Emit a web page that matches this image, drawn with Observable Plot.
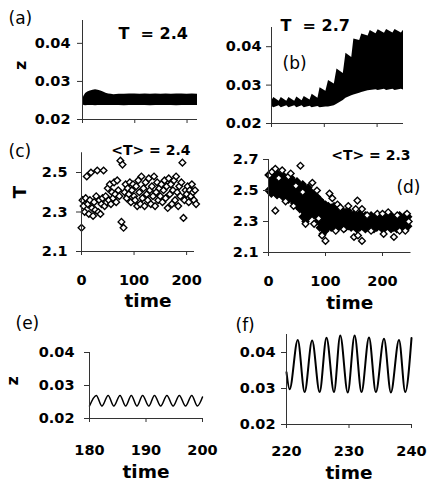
<!DOCTYPE html>
<html><head><meta charset="utf-8">
<script src="https://cdn.jsdelivr.net/npm/d3@7"></script>
<script src="https://cdn.jsdelivr.net/npm/@observablehq/plot@0.6"></script>
<style>
body{margin:0;background:#fff;}
#fig{position:relative;width:427px;height:485px;overflow:hidden;background:#fff;}
</style></head><body><div id="fig"></div>
<script>
// ---------- tick values ----------
const timeTicks = [0, 100, 200];
const zTicks = [0.02, 0.03, 0.04];
const tTicksC = [2.1, 2.3, 2.5];
const tTicksD = [2.1, 2.3, 2.5, 2.7];
const eTicks = [180, 190, 200];
const fTicks = [220, 230, 240];

// ---------- (a) z envelope, T = 2.4 ----------
const aTime  = [0, 3, 6, 10, 15, 20, 25, 30, 35, 40, 45, 50, 55, 60, 70, 80, 90, 100, 110, 120, 130, 140, 150, 160, 170, 180, 190, 200, 210, 220];
const aUpper = [0.0252, 0.0262, 0.0268, 0.0272, 0.0275, 0.0277, 0.0278, 0.0277, 0.0275, 0.0272, 0.0269, 0.0267, 0.0266, 0.0265, 0.0266, 0.0266, 0.0267, 0.0267, 0.0266, 0.0267, 0.0266, 0.0267, 0.0266, 0.0267, 0.0266, 0.0267, 0.0267, 0.0266, 0.0267, 0.0266];
const aLower = [0.0240, 0.0237, 0.0236, 0.0237, 0.0237, 0.0237, 0.0236, 0.0237, 0.0237, 0.0237, 0.0237, 0.0237, 0.0237, 0.0237, 0.0237, 0.0236, 0.0237, 0.0237, 0.0237, 0.0237, 0.0236, 0.0237, 0.0237, 0.0237, 0.0237, 0.0236, 0.0237, 0.0237, 0.0237, 0.0237];

// ---------- (b) z envelope, T = 2.7 ----------
const bTime  = [0, 4.5, 14.5, 18.5, 29, 33, 44, 48, 58, 62, 73, 77, 88, 92, 103, 108, 119, 124, 136, 141, 152, 156, 167, 171, 183, 187, 198, 202, 214, 218, 230, 234, 246, 250];
const bUpper = [0.0258, 0.0268, 0.0258, 0.0268, 0.0258, 0.0268, 0.0258, 0.0269, 0.0259, 0.0270, 0.0261, 0.0276, 0.0266, 0.0293, 0.0284, 0.0312, 0.0303, 0.0342, 0.0330, 0.0383, 0.0372, 0.0420, 0.0416, 0.0433, 0.0428, 0.0442, 0.0434, 0.0444, 0.0435, 0.0445, 0.0436, 0.0445, 0.0436, 0.0443];
const bLower = [0.0245, 0.0241, 0.0246, 0.0241, 0.0246, 0.0241, 0.0246, 0.0241, 0.0246, 0.0241, 0.0245, 0.0241, 0.0244, 0.0241, 0.0243, 0.0243, 0.0246, 0.0250, 0.0260, 0.0266, 0.0272, 0.0274, 0.0279, 0.0281, 0.0285, 0.0286, 0.0288, 0.0286, 0.0289, 0.0286, 0.0289, 0.0286, 0.0289, 0.0287];

// ---------- (c) T scatter, <T> = 2.4 ----------
const cTime = [0,2,4,6,8,10,12,14,16,18,20,22,24,26,28,30,32,34,36,38,40,42,44,46,48,50,52,54,56,58,60,62,64,66,68,70,72,74,76,78,80,82,84,86,88,90,92,94,96,98,100,102,104,106,108,110,112,114,116,118,120,122,124,126,128,130,132,134,136,138,140,142,144,146,148,150,152,154,156,158,160,162,164,166,168,170,172,174,176,178,180,182,184,186,188,190,192,194,196,198,200,202,204,206,208,210,212,214,216,218];
const cT = [2.22,2.36,2.33,2.30,2.37,2.48,2.34,2.29,2.36,2.50,2.32,2.28,2.35,2.31,2.38,2.51,2.30,2.36,2.29,2.34,2.37,2.51,2.33,2.38,2.35,2.42,2.36,2.44,2.34,2.40,2.37,2.45,2.39,2.35,2.46,2.41,2.38,2.56,2.25,2.54,2.22,2.40,2.44,2.37,2.42,2.39,2.45,2.35,2.41,2.44,2.38,2.36,2.43,2.33,2.46,2.40,2.34,2.48,2.37,2.42,2.33,2.45,2.39,2.36,2.47,2.41,2.34,2.43,2.38,2.48,2.33,2.40,2.45,2.36,2.42,2.38,2.44,2.35,2.41,2.46,2.37,2.43,2.32,2.47,2.39,2.44,2.34,2.41,2.46,2.36,2.48,2.40,2.33,2.43,2.38,2.45,2.55,2.27,2.36,2.41,2.39,2.43,2.35,2.41,2.38,2.44,2.40,2.36,2.41,2.34];

// ---------- (d) T scatter, <T> = 2.3 ----------
const dEnvTime = [0,5,10,15,20,25,30,35,40,45,50,55,60,65,70,75,80,85,90,95,100,105,110,115,120,125,130,135,140,145,150,155,160,165,170,175,180,185,190,195,200,205,210,215,220,225,230,235,240,245];
const dUpper = [2.60,2.61,2.60,2.61,2.59,2.60,2.58,2.57,2.58,2.55,2.56,2.53,2.54,2.51,2.52,2.49,2.48,2.46,2.44,2.42,2.41,2.40,2.39,2.40,2.37,2.38,2.37,2.36,2.37,2.34,2.35,2.33,2.35,2.33,2.34,2.33,2.34,2.32,2.34,2.33,2.34,2.32,2.33,2.34,2.32,2.33,2.34,2.32,2.34,2.33];
const dLower = [2.50,2.48,2.49,2.47,2.48,2.46,2.45,2.44,2.45,2.42,2.40,2.38,2.33,2.30,2.33,2.36,2.34,2.30,2.26,2.22,2.24,2.27,2.26,2.28,2.26,2.27,2.28,2.26,2.27,2.26,2.27,2.25,2.26,2.27,2.25,2.26,2.27,2.25,2.26,2.27,2.25,2.26,2.27,2.25,2.26,2.25,2.27,2.26,2.25,2.27];
const dOutTime = [2,6,12,18,24,35,39,56,12,30,44,48,60,77,85,65,80,88,107,112,94,100,121,126,118,132,140,153,156,150,157,164,164,173,180,191,200,202,210,220,226,230,240,243,246];
const dOutT = [2.60,2.62,2.64,2.58,2.63,2.59,2.61,2.66,2.37,2.43,2.40,2.53,2.49,2.55,2.50,2.285,2.285,2.32,2.48,2.45,2.21,2.175,2.41,2.39,2.24,2.25,2.40,2.38,2.435,2.20,2.21,2.175,2.38,2.34,2.24,2.35,2.35,2.22,2.36,2.20,2.34,2.24,2.24,2.35,2.30];

// ---------- (e) zoomed z, T = 2.4 ----------
const eTime = [180,181.2,182.2,183.3,184.3,185.4,186.4,187.4,188.4,189.4,190.5,191.5,192.6,193.7,194.8,195.9,197.0,198.1,199.1,200];
const eZ = [0.0238,0.0270,0.0238,0.0270,0.0238,0.0270,0.0238,0.0270,0.0238,0.0270,0.0238,0.0270,0.0238,0.0270,0.0238,0.0270,0.0238,0.0270,0.0238,0.0265];

// ---------- (f) zoomed z, T = 2.7 ----------
const fTime = [220,220.5,221.8,222.9,224.1,225.3,226.4,227.6,228.6,229.8,230.9,232.0,233.2,234.3,235.6,236.7,238.0,239.0,240];
const fZ = [0.0345,0.0298,0.0435,0.0290,0.0433,0.0290,0.0441,0.0290,0.0447,0.0289,0.0447,0.0290,0.0442,0.0290,0.0438,0.0289,0.0435,0.0290,0.0440];

// ---------- tables ----------
const aRows = aTime.map((t, i) => ({t, lo: aLower[i], hi: aUpper[i]}));
const bRows = bTime.map((t, i) => ({t, lo: bLower[i], hi: bUpper[i]}));
const cRows = cTime.map((t, i) => ({t, T: cT[i]}));
const dEnv = dEnvTime.map((t, i) => ({t, lo: dLower[i], hi: dUpper[i]}));
const dOut = dOutTime.map((t, i) => ({t, T: dOutT[i]}));
const eRows = eTime.map((t, i) => ({t, z: eZ[i]}));
const fRows = fTime.map((t, i) => ({t, z: fZ[i]}));

const FONT = "'DejaVu Sans', sans-serif";
const fig = document.getElementById("fig");

function label(txt, o) {
  return Plot.text([txt], Object.assign({lineAnchor: "middle", fill: "#000"}, o));
}

function panel(o) {
  const svg = Plot.plot({
    width: o.width, height: o.height,
    marginTop: o.mt, marginRight: o.mr, marginBottom: o.mb, marginLeft: o.ml,
    x: {domain: o.xd},
    y: {domain: o.yd},
    style: {fontFamily: FONT, fontWeight: "bold", fontSize: "14.5px", color: "#000", background: "transparent", overflow: "visible"},
    marks: [
      ...o.marks,
      Plot.ruleY([o.yd[0]], {stroke: "#333", strokeWidth: 1}),
      Plot.ruleX([o.xd[0]], {stroke: "#333", strokeWidth: 1}),
      Plot.axisY(o.yt, {tickSize: 5, tickPadding: o.yPad, tickFormat: o.yFmt, fontSize: 14.5, label: null, stroke: "#333"}),
      Plot.axisX(o.xt, {tickSize: 4, tickPadding: o.xPad, tickFormat: o.xLab ? "d" : () => "", fontSize: 14.5, label: null, stroke: "#333"}),
      ...o.texts
    ]
  });
  svg.style.position = "absolute";
  svg.style.left = o.left + "px";
  svg.style.top = o.top + "px";
  fig.appendChild(svg);
}

// (a)
panel({
  left: 0, top: 0, width: 213, height: 130, mt: 20, mb: 11, ml: 82, mr: 16,
  xd: [0, 220], yd: [0.02, 0.046], xt: timeTicks, yt: zTicks, yFmt: ".2f", yPad: 7, xLab: false, xPad: 3,
  marks: [Plot.areaY(aRows, {x: "t", y1: "lo", y2: "hi", fill: "#000"})],
  texts: [
    label("T\u00a0 = 2.4", {frameAnchor: "top-left", textAnchor: "start", dx: 36, dy: 13, fontSize: 16}),
    label("(a)", {frameAnchor: "top-left", textAnchor: "start", dx: -74, dy: -2, fontSize: 17, fontWeight: "normal"}),
    label("z", {frameAnchor: "left", rotate: -90, dx: -62, fontSize: 16})
  ]
});

// (b)
panel({
  left: 213, top: 0, width: 214, height: 134, mt: 27, mb: 11, ml: 58, mr: 24,
  xd: [0, 250], yd: [0.02, 0.045], xt: timeTicks, yt: zTicks, yFmt: ".2f", yPad: 5, xLab: false, xPad: 3,
  marks: [Plot.areaY(bRows, {x: "t", y1: "lo", y2: "hi", fill: "#000"})],
  texts: [
    label("T\u00a0 = 2.7", {frameAnchor: "top-left", textAnchor: "start", dx: 9, dy: -2, fontSize: 16}),
    label("(b)", {frameAnchor: "top-left", textAnchor: "start", dx: 11, dy: 36, fontSize: 17, fontWeight: "normal"})
  ]
});

// (c)
panel({
  left: 0, top: 134, width: 213, height: 172, mt: 18.25, mb: 55, ml: 81, mr: 19,
  xd: [0, 215], yd: [2.1, 2.6], xt: timeTicks, yt: tTicksC, yFmt: ".1f", yPad: 9, xLab: true, xPad: 19,
  marks: [Plot.dot(cRows, {x: "t", y: "T", symbol: "diamond2", r: 3, fill: "#fff", stroke: "#000", strokeWidth: 1.4})],
  texts: [
    label("<T> = 2.4", {frameAnchor: "top-right", textAnchor: "end", dx: -4, dy: -2, fontSize: 14}),
    label("(c)", {frameAnchor: "top-left", textAnchor: "start", dx: -73, dy: -1, fontSize: 17, fontWeight: "normal"}),
    label("T", {frameAnchor: "left", rotate: -90, dx: -61, dy: -4, fontSize: 18}),
    label("time", {frameAnchor: "bottom", dx: 10, dy: 50, fontSize: 18.5})
  ]
});

// (d)
panel({
  left: 213, top: 134, width: 214, height: 172, mt: 25, mb: 54, ml: 55, mr: 16.5,
  xd: [0, 250], yd: [2.1, 2.7], xt: timeTicks, yt: tTicksD, yFmt: ".1f", yPad: 5, xLab: true, xPad: 19,
  marks: [
    Plot.areaY(dEnv, {x: "t", y1: "lo", y2: "hi", fill: "#000"}),
    Plot.dot(dEnv, {x: "t", y: "hi", symbol: "diamond2", r: 3, fill: "#000", stroke: "#000", strokeWidth: 1.4}),
    Plot.dot(dEnv, {x: "t", y: "lo", symbol: "diamond2", r: 3, fill: "#000", stroke: "#000", strokeWidth: 1.4}),
    Plot.dot(dOut, {x: "t", y: "T", symbol: "diamond2", r: 3, fill: "#fff", stroke: "#000", strokeWidth: 1.4})
  ],
  texts: [
    label("<T> = 2.3", {frameAnchor: "top-right", textAnchor: "end", dx: -0.5, dy: -4, fontSize: 14}),
    label("(d)", {frameAnchor: "top-right", textAnchor: "end", dx: 9.5, dy: 28, fontSize: 17, fontWeight: "normal"}),
    label("time", {frameAnchor: "bottom", dx: 10, dy: 51, fontSize: 18.5})
  ]
});

// (e)
panel({
  left: 0, top: 306, width: 213, height: 179, mt: 46, mb: 67, ml: 89, mr: 11,
  xd: [180, 200], yd: [0.02, 0.04], xt: eTicks, yt: zTicks, yFmt: ".2f", yPad: 10, xLab: true, xPad: 22,
  marks: [Plot.line(eRows, {x: "t", y: "z", curve: "monotone-x", stroke: "#000", strokeWidth: 1.5})],
  texts: [
    label("(e)", {frameAnchor: "top-left", textAnchor: "start", dx: -74, dy: -29, fontSize: 17, fontWeight: "normal"}),
    label("z", {frameAnchor: "left", rotate: -90, dx: -77, fontSize: 16}),
    label("time", {frameAnchor: "bottom", dx: 0, dy: 53.5, fontSize: 18.5})
  ]
});

// (f)
panel({
  left: 213, top: 306, width: 214, height: 179, mt: 28, mb: 61, ml: 73, mr: 16,
  xd: [220, 240], yd: [0.02, 0.045], xt: fTicks, yt: zTicks, yFmt: ".2f", yPad: 6, xLab: true, xPad: 17,
  marks: [Plot.line(fRows, {x: "t", y: "z", curve: "monotone-x", stroke: "#000", strokeWidth: 2})],
  texts: [
    label("(f)", {frameAnchor: "top-left", textAnchor: "start", dx: -51, dy: -8.5, fontSize: 17, fontWeight: "normal"}),
    label("time", {frameAnchor: "bottom", dx: 0, dy: 49, fontSize: 18.5})
  ]
});
</script></body></html>
